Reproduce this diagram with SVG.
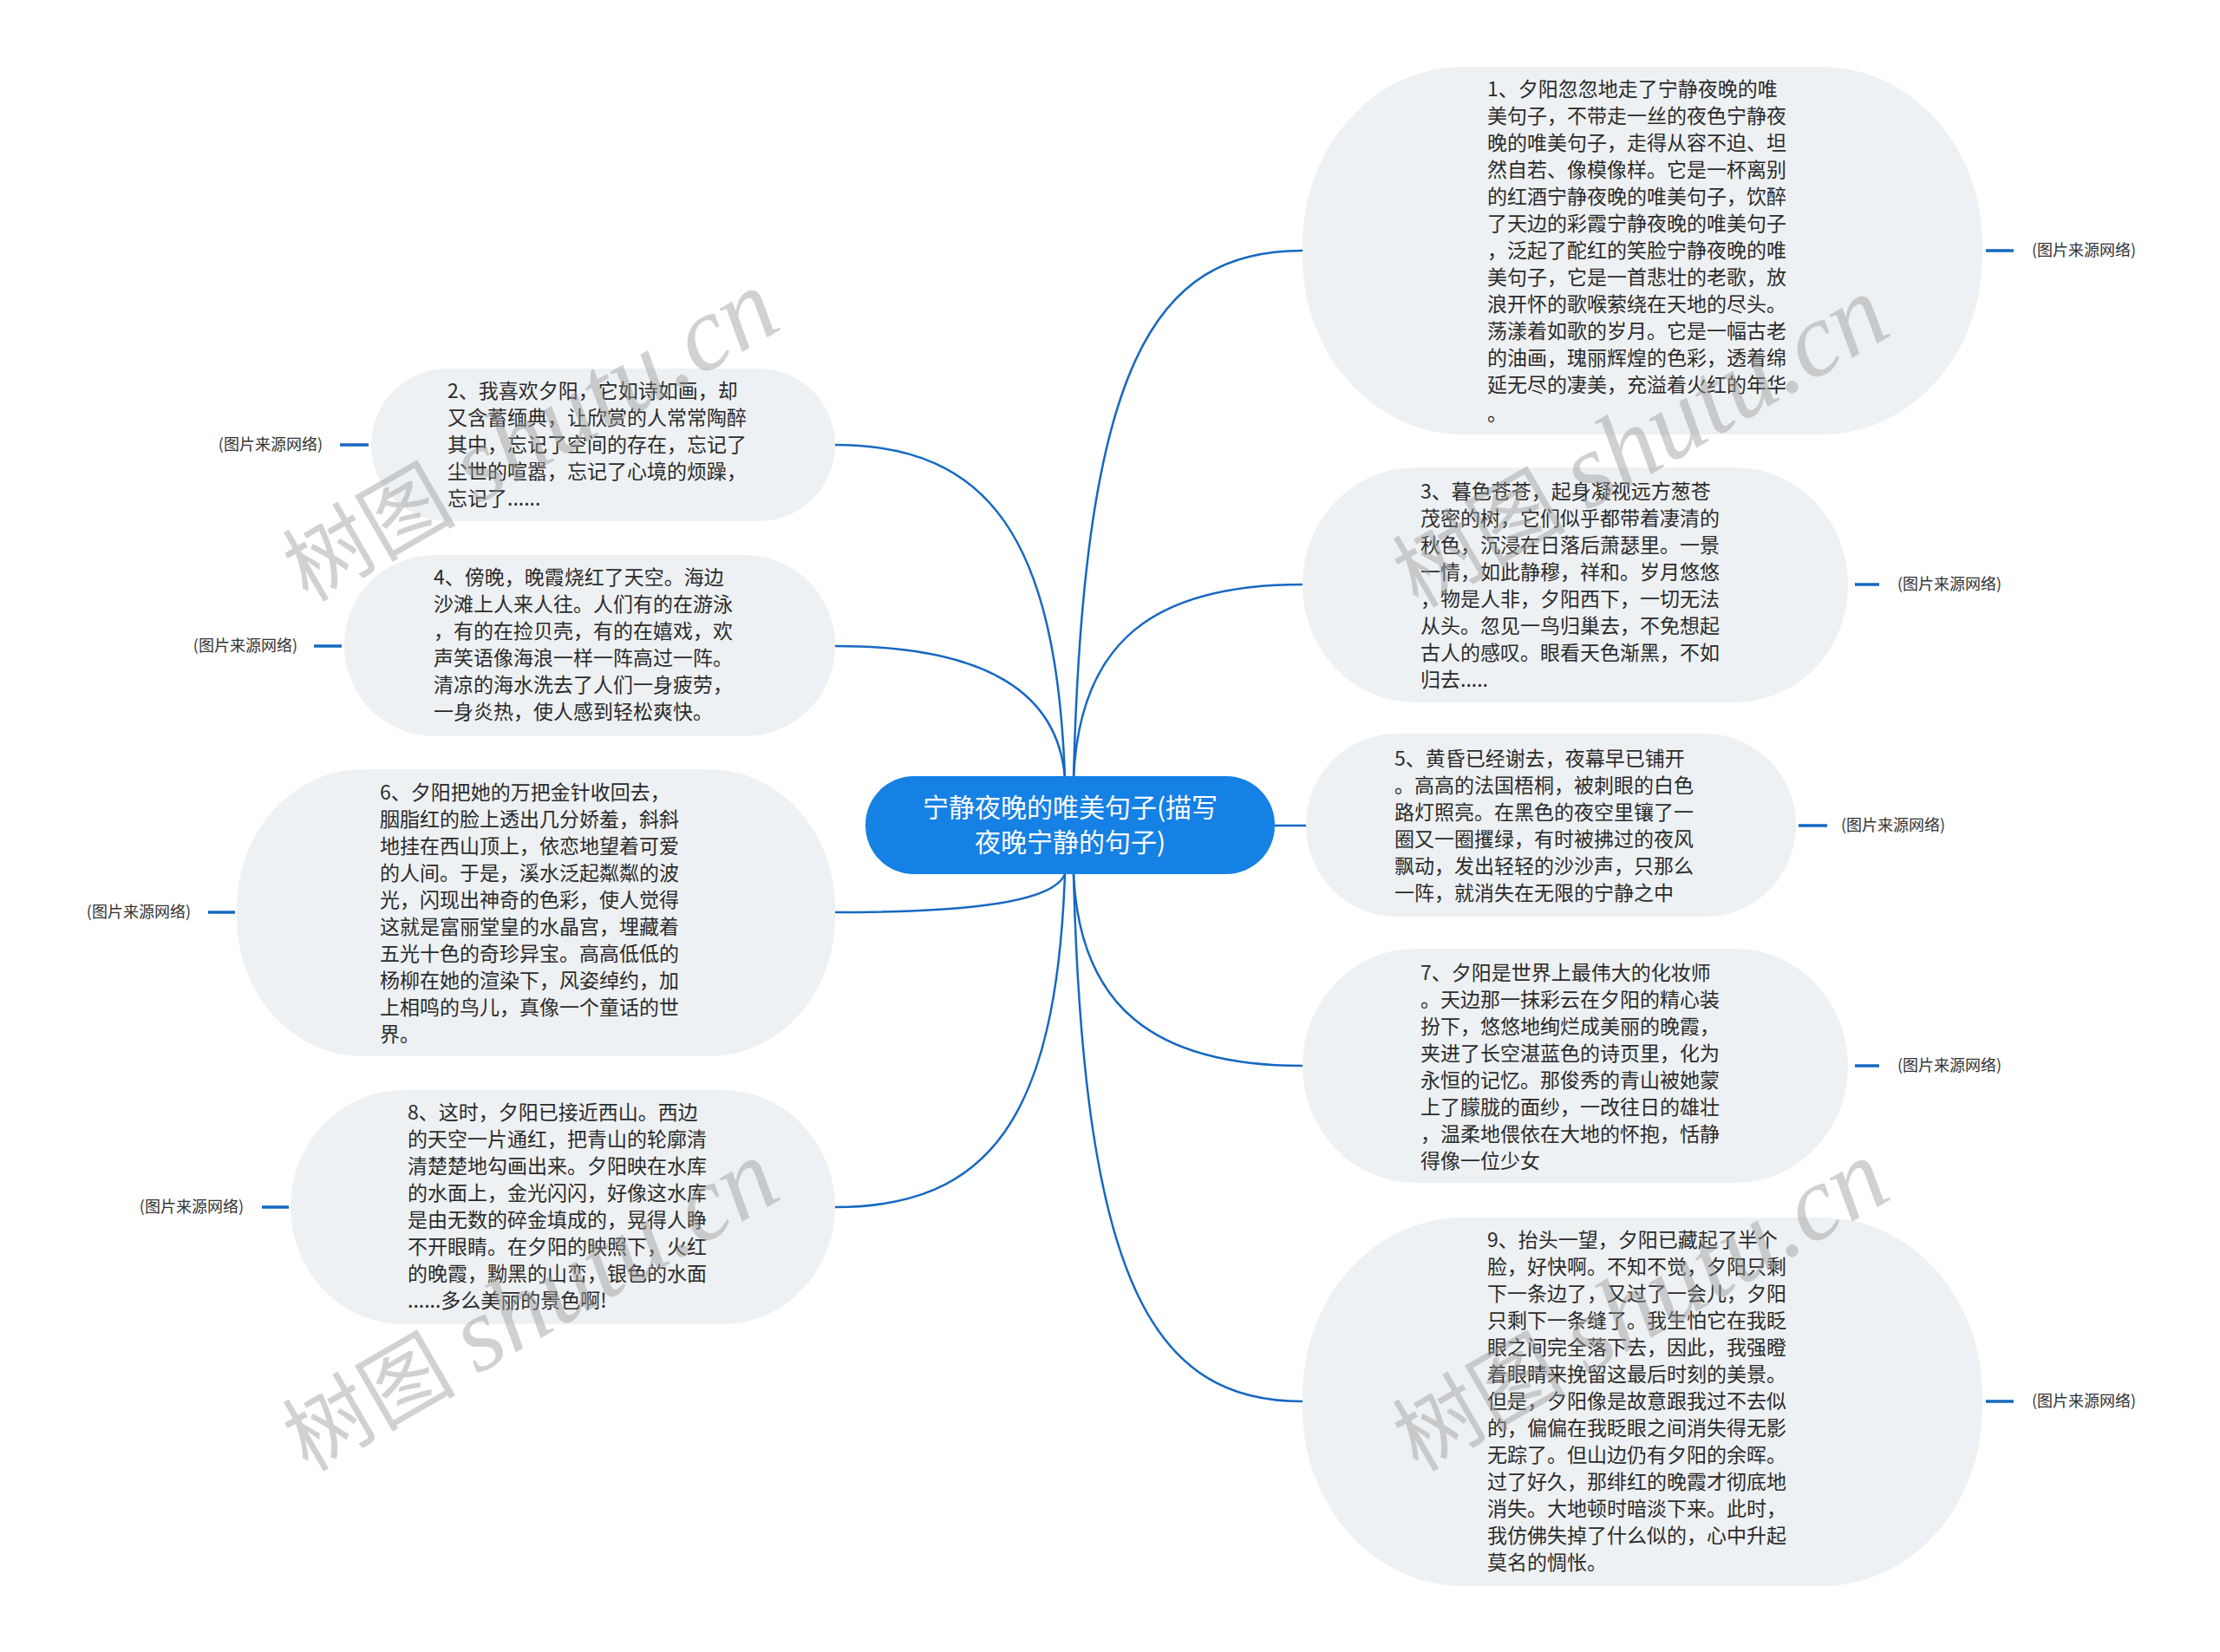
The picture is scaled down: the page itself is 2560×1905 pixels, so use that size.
<svg xmlns="http://www.w3.org/2000/svg" width="2560" height="1905" viewBox="0 0 2560 1905">
<style>
.node{fill:#eef1f4;}
.t{font-family:"Noto Sans CJK SC","Microsoft YaHei",sans-serif;font-size:23px;fill:#2b2b2b;}
.lbl{font-family:"Noto Sans CJK SC",sans-serif;font-size:18px;fill:#333;}
.edge{fill:none;stroke:#1568c2;stroke-width:2.5;}
.stub{fill:none;stroke:#1568c2;stroke-width:3.5;}
.wm{font-family:"Liberation Serif","Noto Sans CJK SC",serif;font-size:100px;fill:#9a9a9a;opacity:0.45;}
.wl{font-size:122px;font-style:italic;}
</style>
<rect width="2560" height="1905" fill="#ffffff"/>
<g id="connectors">
<path class="edge" d="M1238,897 C1250,420 1330,289 1502,289"/>
<path class="edge" d="M1238,897 C1245,740 1330,674 1502,674"/>
<path class="edge" d="M1470,952 L1506,952"/>
<path class="edge" d="M1238,1008 C1245,1160 1330,1229 1502,1229"/>
<path class="edge" d="M1238,1008 C1250,1480 1330,1616 1502,1616"/>
<path class="edge" d="M1228,897 C1218,620 1140,513 963,513"/>
<path class="edge" d="M1228,897 C1220,800 1140,745 963,745"/>
<path class="edge" d="M1228,1008 C1215,1040 1120,1052 963,1052"/>
<path class="edge" d="M1228,1008 C1218,1290 1140,1392 963,1392"/>
<path class="stub" d="M2290,289 H2322 M2139,674 H2167 M2074,952 H2107 M2139,1229 H2167 M2290,1616 H2322 M392,513 H425 M362,745 H394 M240,1052 H271 M302,1392 H333"/>
</g>
<g id="center">
<rect x="998" y="895" width="472" height="113" rx="56" fill="#1681e4"/>
<text x="1234" y="942" text-anchor="middle" font-family="Noto Sans CJK SC,sans-serif" font-size="30" fill="#ffffff">宁静夜晚的唯美句子(描写</text>
<text x="1234" y="982" text-anchor="middle" font-family="Noto Sans CJK SC,sans-serif" font-size="30" fill="#ffffff">夜晚宁静的句子)</text>
</g>
<g id="n1">
<rect class="node" x="1502" y="77" width="784" height="424" rx="185" ry="205"/>
<text class="t" x="1715" y="111"><tspan x="1715" dy="0">1、夕阳忽忽地走了宁静夜晚的唯</tspan><tspan x="1715" dy="31">美句子，不带走一丝的夜色宁静夜</tspan><tspan x="1715" dy="31">晚的唯美句子，走得从容不迫、坦</tspan><tspan x="1715" dy="31">然自若、像模像样。它是一杯离别</tspan><tspan x="1715" dy="31">的红酒宁静夜晚的唯美句子，饮醉</tspan><tspan x="1715" dy="31">了天边的彩霞宁静夜晚的唯美句子</tspan><tspan x="1715" dy="31">，泛起了酡红的笑脸宁静夜晚的唯</tspan><tspan x="1715" dy="31">美句子，它是一首悲壮的老歌，放</tspan><tspan x="1715" dy="31">浪开怀的歌喉萦绕在天地的尽头。</tspan><tspan x="1715" dy="31">荡漾着如歌的岁月。它是一幅古老</tspan><tspan x="1715" dy="31">的油画，瑰丽辉煌的色彩，透着绵</tspan><tspan x="1715" dy="31">延无尽的凄美，充溢着火红的年华</tspan><tspan x="1715" dy="33">。</tspan></text>
<text class="lbl" x="2343" y="295">(图片来源网络)</text>
</g>
<g id="n3">
<rect class="node" x="1502" y="539" width="629" height="271" rx="130" ry="135"/>
<text class="t" x="1638" y="575"><tspan x="1638" dy="0">3、暮色苍苍，起身凝视远方葱苍</tspan><tspan x="1638" dy="31">茂密的树，它们似乎都带着凄清的</tspan><tspan x="1638" dy="31">秋色，沉浸在日落后萧瑟里。一景</tspan><tspan x="1638" dy="31">一情，如此静穆，祥和。岁月悠悠</tspan><tspan x="1638" dy="31">，物是人非，夕阳西下，一切无法</tspan><tspan x="1638" dy="31">从头。忽见一鸟归巢去，不免想起</tspan><tspan x="1638" dy="31">古人的感叹。眼看天色渐黑，不如</tspan><tspan x="1638" dy="31">归去.....</tspan></text>
<text class="lbl" x="2188" y="680">(图片来源网络)</text>
</g>
<g id="n5">
<rect class="node" x="1506" y="846" width="565" height="211" rx="105" ry="105"/>
<text class="t" x="1608" y="883"><tspan x="1608" dy="0">5、黄昏已经谢去，夜幕早已铺开</tspan><tspan x="1608" dy="31">。高高的法国梧桐，被刺眼的白色</tspan><tspan x="1608" dy="31">路灯照亮。在黑色的夜空里镶了一</tspan><tspan x="1608" dy="31">圈又一圈攫绿，有时被拂过的夜风</tspan><tspan x="1608" dy="31">飘动，发出轻轻的沙沙声，只那么</tspan><tspan x="1608" dy="31">一阵，就消失在无限的宁静之中</tspan></text>
<text class="lbl" x="2123" y="958">(图片来源网络)</text>
</g>
<g id="n7">
<rect class="node" x="1502" y="1094" width="629" height="270" rx="130" ry="135"/>
<text class="t" x="1638" y="1130"><tspan x="1638" dy="0">7、夕阳是世界上最伟大的化妆师</tspan><tspan x="1638" dy="31">。天边那一抹彩云在夕阳的精心装</tspan><tspan x="1638" dy="31">扮下，悠悠地绚烂成美丽的晚霞，</tspan><tspan x="1638" dy="31">夹进了长空湛蓝色的诗页里，化为</tspan><tspan x="1638" dy="31">永恒的记忆。那俊秀的青山被她蒙</tspan><tspan x="1638" dy="31">上了朦胧的面纱，一改往日的雄壮</tspan><tspan x="1638" dy="31">，温柔地偎依在大地的怀抱，恬静</tspan><tspan x="1638" dy="31">得像一位少女</tspan></text>
<text class="lbl" x="2188" y="1235">(图片来源网络)</text>
</g>
<g id="n9">
<rect class="node" x="1502" y="1404" width="784" height="425" rx="185" ry="205"/>
<text class="t" x="1715" y="1438"><tspan x="1715" dy="0">9、抬头一望，夕阳已藏起了半个</tspan><tspan x="1715" dy="31">脸，好快啊。不知不觉，夕阳只剩</tspan><tspan x="1715" dy="31">下一条边了，又过了一会儿，夕阳</tspan><tspan x="1715" dy="31">只剩下一条缝了。我生怕它在我眨</tspan><tspan x="1715" dy="31">眼之间完全落下去，因此，我强瞪</tspan><tspan x="1715" dy="31">着眼睛来挽留这最后时刻的美景。</tspan><tspan x="1715" dy="31">但是，夕阳像是故意跟我过不去似</tspan><tspan x="1715" dy="31">的，偏偏在我眨眼之间消失得无影</tspan><tspan x="1715" dy="31">无踪了。但山边仍有夕阳的余晖。</tspan><tspan x="1715" dy="31">过了好久，那绯红的晚霞才彻底地</tspan><tspan x="1715" dy="31">消失。大地顿时暗淡下来。此时，</tspan><tspan x="1715" dy="31">我仿佛失掉了什么似的，心中升起</tspan><tspan x="1715" dy="31">莫名的惆怅。</tspan></text>
<text class="lbl" x="2343" y="1622">(图片来源网络)</text>
</g>
<g id="n2">
<rect class="node" x="428" y="425" width="535" height="176" rx="88" ry="88"/>
<text class="t" x="516" y="459"><tspan x="516" dy="0">2、我喜欢夕阳，它如诗如画，却</tspan><tspan x="516" dy="31">又含蓄缅典，让欣赏的人常常陶醉</tspan><tspan x="516" dy="31">其中，忘记了空间的存在，忘记了</tspan><tspan x="516" dy="31">尘世的喧嚣，忘记了心境的烦躁，</tspan><tspan x="516" dy="31">忘记了......</tspan></text>
<text class="lbl" x="372" y="519" text-anchor="end">(图片来源网络)</text>
</g>
<g id="n4">
<rect class="node" x="397" y="640" width="566" height="209" rx="104" ry="104"/>
<text class="t" x="500" y="674"><tspan x="500" dy="0">4、傍晚，晚霞烧红了天空。海边</tspan><tspan x="500" dy="31">沙滩上人来人往。人们有的在游泳</tspan><tspan x="500" dy="31">，有的在捡贝壳，有的在嬉戏，欢</tspan><tspan x="500" dy="31">声笑语像海浪一样一阵高过一阵。</tspan><tspan x="500" dy="31">清凉的海水洗去了人们一身疲劳，</tspan><tspan x="500" dy="31">一身炎热，使人感到轻松爽快。</tspan></text>
<text class="lbl" x="343" y="751" text-anchor="end">(图片来源网络)</text>
</g>
<g id="n6">
<rect class="node" x="273" y="887" width="690" height="331" rx="145" ry="160"/>
<text class="t" x="438" y="922"><tspan x="438" dy="0">6、夕阳把她的万把金针收回去，</tspan><tspan x="438" dy="31">胭脂红的脸上透出几分娇羞，斜斜</tspan><tspan x="438" dy="31">地挂在西山顶上，依恋地望着可爱</tspan><tspan x="438" dy="31">的人间。于是，溪水泛起粼粼的波</tspan><tspan x="438" dy="31">光，闪现出神奇的色彩，使人觉得</tspan><tspan x="438" dy="31">这就是富丽堂皇的水晶宫，埋藏着</tspan><tspan x="438" dy="31">五光十色的奇珍异宝。高高低低的</tspan><tspan x="438" dy="31">杨柳在她的渲染下，风姿绰约，加</tspan><tspan x="438" dy="31">上相鸣的鸟儿，真像一个童话的世</tspan><tspan x="438" dy="31">界。</tspan></text>
<text class="lbl" x="220" y="1058" text-anchor="end">(图片来源网络)</text>
</g>
<g id="n8">
<rect class="node" x="335" y="1257" width="628" height="270" rx="130" ry="135"/>
<text class="t" x="470" y="1291"><tspan x="470" dy="0">8、这时，夕阳已接近西山。西边</tspan><tspan x="470" dy="31">的天空一片通红，把青山的轮廓清</tspan><tspan x="470" dy="31">清楚楚地勾画出来。夕阳映在水库</tspan><tspan x="470" dy="31">的水面上，金光闪闪，好像这水库</tspan><tspan x="470" dy="31">是由无数的碎金填成的，晃得人睁</tspan><tspan x="470" dy="31">不开眼睛。在夕阳的映照下，火红</tspan><tspan x="470" dy="31">的晚霞，黝黑的山峦，银色的水面</tspan><tspan x="470" dy="31">......多么美丽的景色啊!</tspan></text>
<text class="lbl" x="281" y="1398" text-anchor="end">(图片来源网络)</text>
</g>
<g id="watermarks">
<text class="wm" transform="translate(355,695) rotate(-30)">树图 <tspan class="wl">shutu.cn</tspan></text>
<text class="wm" transform="translate(1635,702) rotate(-30)">树图 <tspan class="wl">shutu.cn</tspan></text>
<text class="wm" transform="translate(355,1698) rotate(-30)">树图 <tspan class="wl">shutu.cn</tspan></text>
<text class="wm" transform="translate(1635,1698) rotate(-30)">树图 <tspan class="wl">shutu.cn</tspan></text>
</g>
</svg>
